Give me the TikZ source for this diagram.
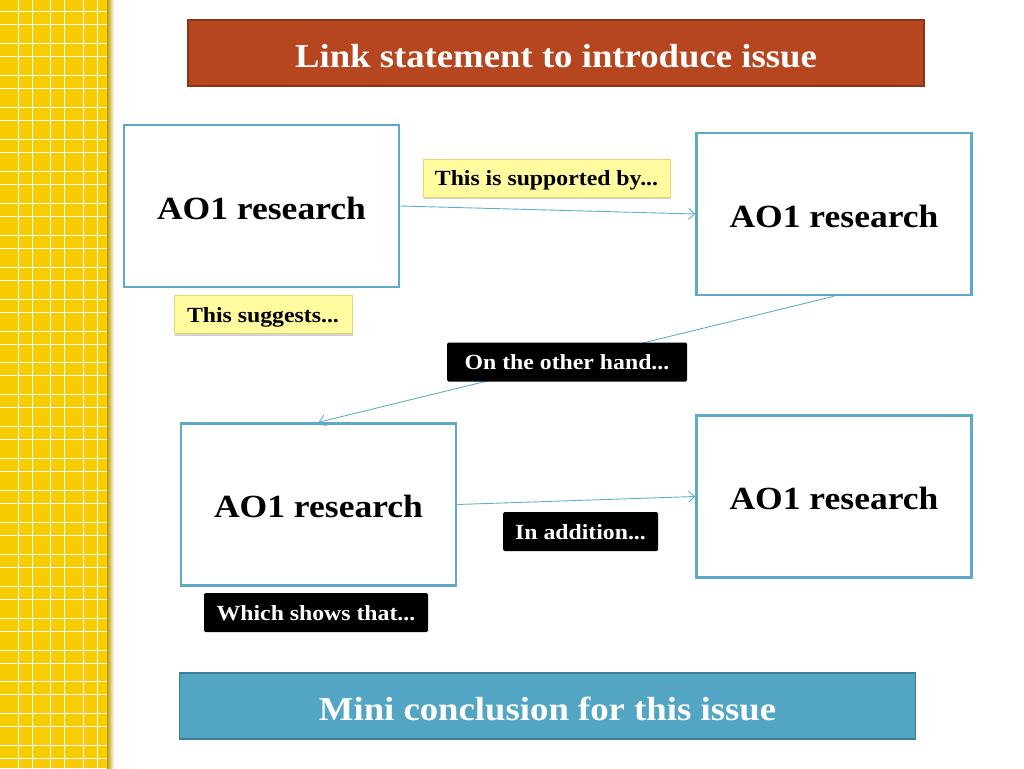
\documentclass[tikz,border=0pt]{standalone}
\usepackage{fontspec}
\setmainfont{Liberation Serif}[FakeStretch=1.1]
\usetikzlibrary{arrows.meta,shadows}
\definecolor{stripY}{HTML}{F7CC00}
\definecolor{rust}{HTML}{B5461F}
\definecolor{rustEdge}{HTML}{8E3414}
\definecolor{teal}{HTML}{52A5C3}
\definecolor{tealEdge}{HTML}{3B7F98}
\definecolor{boxEdge}{HTML}{5EA9C8}
\definecolor{arrowC}{HTML}{5DAFCC}
\definecolor{lblY}{HTML}{FFFB9E}
\definecolor{lblYEdge}{HTML}{E6D774}
\tikzset{
  banner/.style={draw, line width=1.5pt, minimum width=736pt, minimum height=66pt, inner sep=0pt,
    text=white, font=\fontsize{33.4}{33.4}\selectfont\bfseries, text height=28pt, text depth=0pt},
  resbox/.style={draw=boxEdge, line width=2.5pt, fill=white, minimum width=275pt, minimum height=162pt,
    inner sep=0pt, font=\fontsize{32.3}{32.3}\selectfont\bfseries, text height=26pt, text depth=0pt},
  ylabel/.style={draw=lblYEdge, line width=0.8pt, fill=lblY, inner sep=0pt,
    minimum height=38pt, font=\fontsize{21.6}{21.6}\selectfont\bfseries, text height=17pt, text depth=2pt,
    drop shadow={shadow xshift=1pt, shadow yshift=-2pt, fill=black, opacity=0.18}},
  blabel/.style={fill=black, rounded corners=1.5pt, inner sep=0pt, text=white,
    minimum height=39pt, font=\fontsize{21.6}{21.6}\selectfont\bfseries, text height=17pt, text depth=2pt},
  link/.style={draw=arrowC, line width=0.9pt, -{Straight Barb[length=6pt,width=11pt,line width=0.9pt]}},
}
\begin{document}
\begin{tikzpicture}[x=1pt,y=-1pt]
\useasboundingbox (0,0) rectangle (1024,768);
% left strip
\fill[stripY] (0,0) rectangle (108,768);
\shade[left color=stripY!75!black, right color=white] (107,0) rectangle (114,768);
\foreach \x in {18,32,50.5,64.5,83,97} \draw[white, line width=1pt] (\x,0) -- (\x,768);
\foreach \k in {0,...,23} {
  \draw[white, line width=1pt] (0,{12+31.9*\k}) -- (107,{12+31.9*\k});
  \draw[white, line width=1pt] (0,{25+31.9*\k}) -- (107,{25+31.9*\k});
}
% banners
\node[banner, draw=rustEdge, fill=rust] (top) at (556,53) {Link statement to introduce issue};
\node[banner, draw=tealEdge, fill=teal] (bottom) at (547.5,706) {Mini conclusion for this issue};
% research boxes
\node[resbox] (b1) at (261.5,206) {AO1 research};
\node[resbox] (b2) at (834,214) {AO1 research};
\node[resbox] (b3) at (318.5,504.5) {AO1 research};
\node[resbox] (b4) at (834,496.5) {AO1 research};
% connectors
\draw[link] (b1.east) -- (b2.west);
\draw[link] (b2.south) -- (b3.north);
\draw[link] (b3.east) -- (b4.west);
% labels
\node[ylabel, minimum width=247pt] (l1) at (546.5,178) {This is supported by...};
\node[ylabel, minimum width=178pt] (l2) at (263,314.5) {This suggests...};
\node[blabel, minimum width=240pt] (l3) at (567,362) {On the other hand...};
\node[blabel, minimum width=155pt] (l4) at (580.5,531.5) {In addition...};
\node[blabel, minimum width=224pt] (l5) at (316,612.5) {Which shows that...};
\end{tikzpicture}
\end{document}
